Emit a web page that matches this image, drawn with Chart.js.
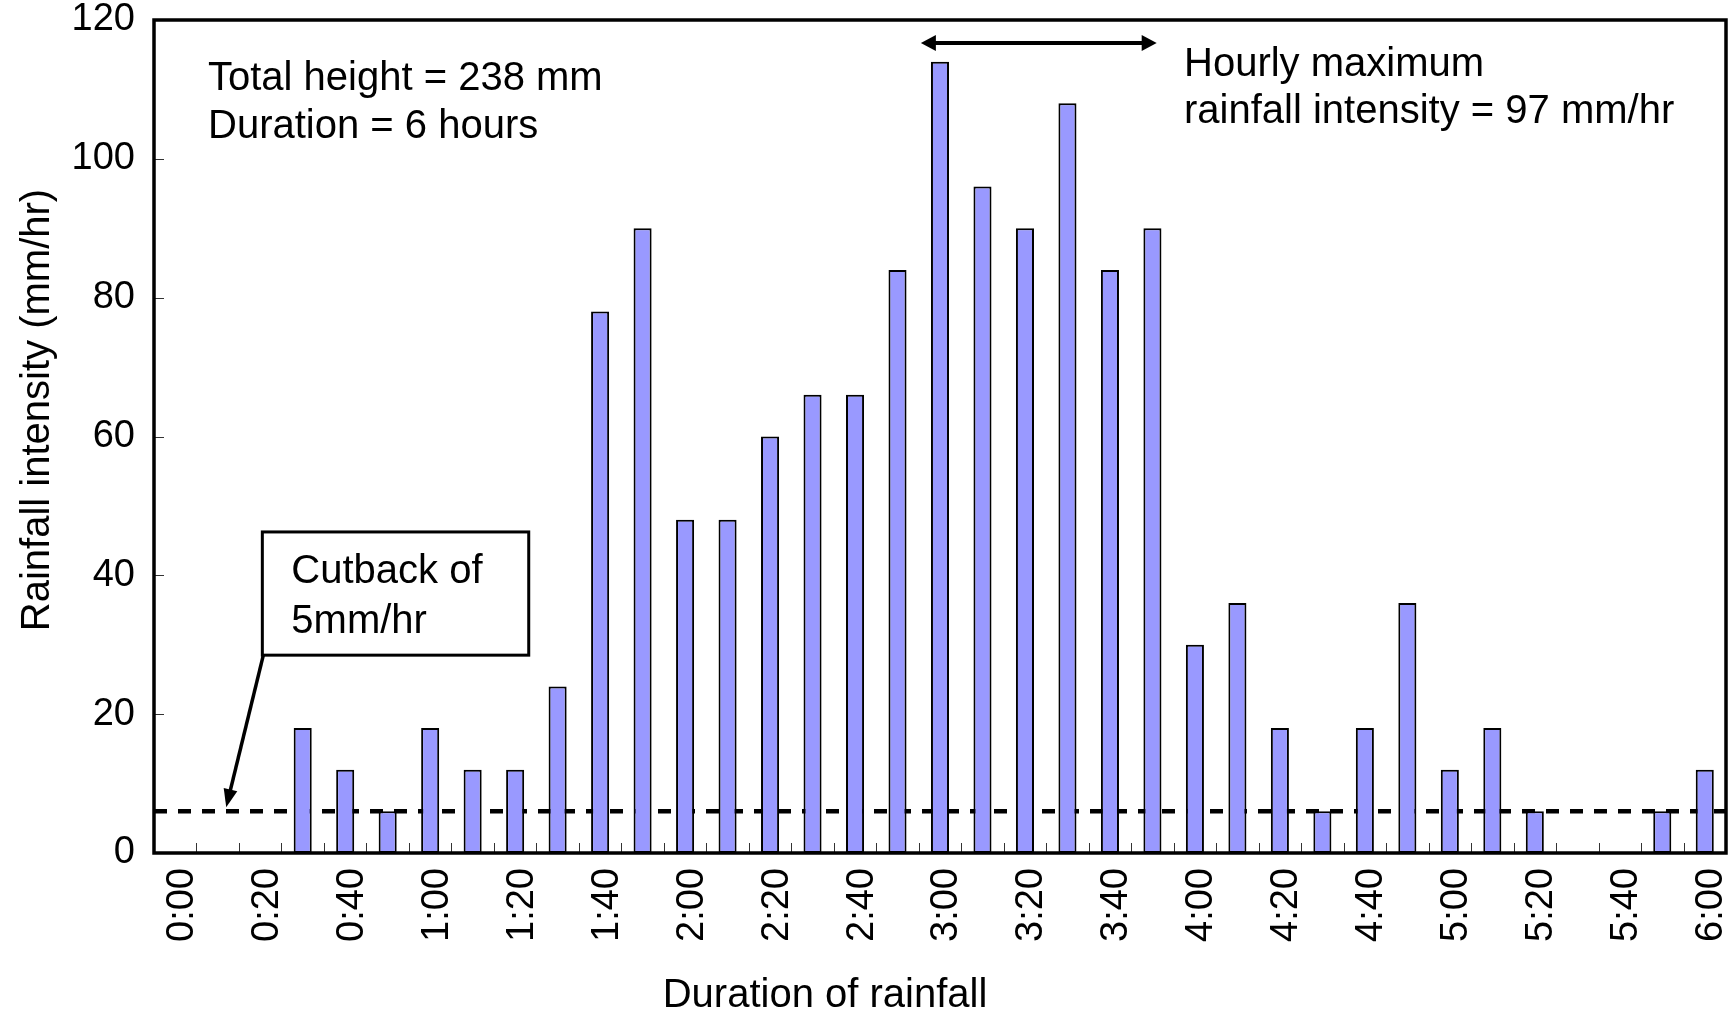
<!DOCTYPE html>
<html>
<head>
<meta charset="utf-8">
<script src="https://cdn.jsdelivr.net/npm/chart.js@4.4.1/dist/chart.umd.min.js"></script>
<style>
html,body{margin:0;padding:0;background:#fff;overflow:hidden;}
#wrap{width:1729px;height:1010px;position:relative;}
</style>
</head>
<body>
<div id="wrap"><canvas id="c" width="1729" height="1010"></canvas></div>
<script>
// ---- data ----
const times = ['0:00','0:10','0:20','0:30','0:40','0:50','1:00','1:10','1:20','1:30','1:40','1:50',
               '2:00','2:10','2:20','2:30','2:40','2:50','3:00','3:10','3:20','3:30','3:40','3:50',
               '4:00','4:10','4:20','4:30','4:40','4:50','5:00','5:10','5:20','5:30','5:40','5:50','6:00'];
const intensity = [0,0,0,18,12,6,18,12,12,24,78,90,
                   48,48,60,66,66,84,114,96,90,108,84,90,
                   30,36,18,6,18,36,12,18,6,0,0,6,12];
const tickLabels = ['0:00','0:20','0:40','1:00','1:20','1:40','2:00','2:20','2:40','3:00',
                    '3:20','3:40','4:00','4:20','4:40','5:00','5:20','5:40','6:00'];
const yTickValues = [0,20,40,60,80,100,120];
const cutbackLevel = 6;                 // dashed cutback line (mm/hr)
const hourlyArrowFrom = 17.55;          // category index units
const hourlyArrowTo = 23.1;
const hourlyArrowLevel = 116.7;
const cutbackBox = {x0: 2.05, x1: 8.32, yTop: 46.25, yBottom: 28.5};
const cutbackPointer = {x: 1.2, y: 6.6};
const notesTopLeft = ['Total height = 238 mm', 'Duration = 6 hours'];
const notesTopRight = ['Hourly maximum', 'rainfall intensity = 97 mm/hr'];
const notesBox = ['Cutback of', '5mm/hr'];
const xTitle = 'Duration of rainfall';
const yTitle = 'Rainfall intensity (mm/hr)';

const FONT = "'Liberation Sans', Arial, Helvetica, sans-serif";

function arrowHead(ctx, tipX, tipY, fromX, fromY, len, half) {
  const ang = Math.atan2(tipY - fromY, tipX - fromX);
  ctx.beginPath();
  ctx.moveTo(tipX, tipY);
  ctx.lineTo(tipX - len * Math.cos(ang) + half * Math.sin(ang), tipY - len * Math.sin(ang) - half * Math.cos(ang));
  ctx.lineTo(tipX - len * Math.cos(ang) - half * Math.sin(ang), tipY - len * Math.sin(ang) + half * Math.cos(ang));
  ctx.closePath();
  ctx.fill();
}

function noPad(s) { s.paddingLeft = 0; s.paddingRight = 0; s.paddingTop = 0; s.paddingBottom = 0; }

const deco = {
  id: 'deco',
  beforeDatasetsDraw(chart) {
    const {ctx, chartArea: a, scales: {y}} = chart;
    const py = y.getPixelForValue(cutbackLevel);
    ctx.save();
    ctx.strokeStyle = '#000';
    ctx.lineWidth = 4.5;
    ctx.setLineDash([13, 11]);
    ctx.beginPath();
    ctx.moveTo(a.left, py);
    ctx.lineTo(a.right, py);
    ctx.stroke();
    ctx.restore();
  },
  afterDatasetsDraw(chart) {
    const {ctx, chartArea: a, scales: {x, y}} = chart;
    ctx.save();
    // inner tick marks
    ctx.strokeStyle = '#333';
    ctx.lineWidth = 1;
    for (let i = 1; i < times.length; i++) {
      const px = Math.round((x.getPixelForValue(i - 1) + x.getPixelForValue(i)) / 2) + 0.5;
      ctx.beginPath();
      ctx.moveTo(px, a.bottom);
      ctx.lineTo(px, a.bottom - 10);
      ctx.stroke();
    }
    yTickValues.forEach(v => {
      const py = Math.round(y.getPixelForValue(v)) + 0.5;
      ctx.beginPath();
      ctx.moveTo(a.left, py);
      ctx.lineTo(a.left + 10, py);
      ctx.stroke();
    });
    // frame
    ctx.strokeStyle = '#000';
    ctx.lineWidth = 3.5;
    ctx.strokeRect(a.left, a.top, a.right - a.left, a.bottom - a.top);

    // texts
    ctx.fillStyle = '#000';
    ctx.font = '40px ' + FONT;
    ctx.textAlign = 'left';
    ctx.textBaseline = 'alphabetic';
    ctx.fillText(notesTopLeft[0], a.left + 54, a.top + 70);
    ctx.fillText(notesTopLeft[1], a.left + 54, a.top + 118);
    ctx.fillText(notesTopRight[0], a.left + 1030, a.top + 56);
    ctx.fillText(notesTopRight[1], a.left + 1030, a.top + 103);

    // hourly maximum double arrow
    const ay = y.getPixelForValue(hourlyArrowLevel);
    const ax0 = x.getPixelForValue(hourlyArrowFrom);
    const ax1 = x.getPixelForValue(hourlyArrowTo);
    ctx.lineWidth = 4;
    ctx.beginPath();
    ctx.moveTo(ax0 + 10, ay);
    ctx.lineTo(ax1 - 10, ay);
    ctx.stroke();
    arrowHead(ctx, ax0, ay, ax1, ay, 15, 8);
    arrowHead(ctx, ax1, ay, ax0, ay, 15, 8);

    // cutback box
    const bx0 = x.getPixelForValue(cutbackBox.x0);
    const bx1 = x.getPixelForValue(cutbackBox.x1);
    const by0 = y.getPixelForValue(cutbackBox.yTop);
    const by1 = y.getPixelForValue(cutbackBox.yBottom);
    ctx.fillStyle = '#fff';
    ctx.fillRect(bx0, by0, bx1 - bx0, by1 - by0);
    ctx.lineWidth = 3;
    ctx.strokeRect(bx0, by0, bx1 - bx0, by1 - by0);
    ctx.fillStyle = '#000';
    ctx.fillText(notesBox[0], bx0 + 29, by0 + 51);
    ctx.fillText(notesBox[1], bx0 + 29, by0 + 101);

    // pointer from box to cutback line
    const tx = x.getPixelForValue(cutbackPointer.x);
    const ty = y.getPixelForValue(cutbackPointer.y);
    const sx = bx0 + 1, sy = by1;
    const ang = Math.atan2(ty - sy, tx - sx);
    ctx.lineWidth = 3.5;
    ctx.beginPath();
    ctx.moveTo(sx, sy);
    ctx.lineTo(tx - 12 * Math.cos(ang), ty - 12 * Math.sin(ang));
    ctx.stroke();
    arrowHead(ctx, tx, ty, sx, sy, 18, 7);

    // axis titles
    ctx.font = '40px ' + FONT;
    ctx.textAlign = 'center';
    ctx.fillText(xTitle, a.left + 671, chart.height - 3);
    ctx.save();
    ctx.translate(49, 410);
    ctx.rotate(-Math.PI / 2);
    ctx.fillText(yTitle, 0, 0);
    ctx.restore();

    ctx.restore();
  }
};

new Chart(document.getElementById('c'), {
  type: 'bar',
  data: {
    labels: times,
    datasets: [{
      data: intensity,
      backgroundColor: '#9999FF',
      borderColor: '#000',
      borderWidth: 2,
      borderSkipped: false,
      barPercentage: 0.425,
      categoryPercentage: 1
    }]
  },
  options: {
    responsive: false,
    animation: false,
    devicePixelRatio: 1,
    layout: {padding: {top: 20, right: 3, left: 0, bottom: 0}},
    plugins: {legend: {display: false}, tooltip: {enabled: false}},
    scales: {
      x: {
        grid: {display: false, drawTicks: false},
        border: {display: false},
        ticks: {
          autoSkip: false,
          minRotation: 90,
          maxRotation: 90,
          padding: 15,
          labelOffset: 7,
          color: '#000',
          font: {size: 38, family: FONT},
          callback: function (v, i) {
            const t = times[i];
            return tickLabels.includes(t) ? t : '';
          }
        },
        afterFit(s) { s.height = 157; noPad(s); }
      },
      y: {
        min: 0,
        max: 120,
        grid: {display: false, drawTicks: false},
        border: {display: false},
        ticks: {
          stepSize: 20,
          padding: 19,
          color: '#000',
          font: {size: 38, family: FONT}
        },
        afterFit(s) { s.width = 154; noPad(s); }
      }
    }
  },
  plugins: [deco]
});
</script>
</body>
</html>
